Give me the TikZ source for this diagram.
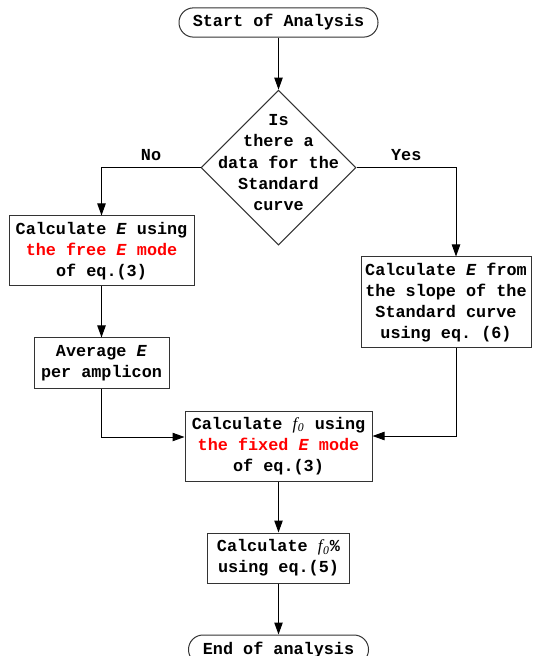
\documentclass[tikz,border=0pt]{standalone}
\usepackage{fontspec}
\setmonofont{Liberation Mono}
\newfontfamily\timesfont{Liberation Serif}
\usepackage{xcolor}
\usetikzlibrary{arrows.meta, positioning, shapes.geometric}

\newcommand{\EE}{\textit{E}}
\newcommand{\fzero}{{\timesfont\itshape\mdseries f\kern0.3pt\textsubscript{0}}}

\begin{document}
\begin{tikzpicture}[
  x=0.5pt, y=-0.5pt,
  font=\ttfamily\bfseries\fontsize{8.4}{10.6}\selectfont,
  box/.style={rectangle, draw=black!80, line width=0.5pt, align=center, inner sep=1pt},
  term/.style={rectangle, draw=black!80, line width=0.5pt, rounded corners=7.25pt,
               minimum height=14.5pt},
  decision/.style={diamond, draw=black!80, line width=0.5pt, minimum size=77.5pt, inner sep=0pt},
  arr/.style={-{Triangle[length=6pt, width=4.2pt]}, line width=0.5pt},
  node distance=25.5pt
]
\useasboundingbox (0,0) rectangle (533,656);

\node[term, minimum width=99.5pt] (start) at (278.5,22.5) {Start of Analysis};
\node[decision, below=26pt of start] (dec) {};
\node[align=center, yshift=2.5pt] (dectext) at (dec) {Is\\there a\\data for the\\Standard\\curve};

\node[box, minimum width=92.5pt, minimum height=35pt] (free) at (101.5,251)
      {Calculate \EE{} using\\\textcolor{red}{the free \EE{} mode}\\of eq.(3)};
\node[box, minimum width=67.5pt, minimum height=25pt] (avg) at (101.5,363)
      {Average \EE\\per amplicon};
\node[box, minimum width=85pt, minimum height=45.5pt] (slope) at (446,302.5)
      {Calculate \EE{} from\\the slope of the\\Standard curve\\using eq. (6)};
\node[box, minimum width=93.5pt, minimum height=35pt] (fixed) at (278.5,446)
      {Calculate \fzero{} using\\\textcolor{red}{the fixed \EE{} mode}\\of eq.(3)};
\node[box, minimum width=71pt, minimum height=25pt, below=of fixed] (pct)
      {Calculate \fzero\%\\using eq.(5)};
\node[term, minimum width=90pt, below=of pct] (end) {End of analysis};

\draw[arr] (start) -- (dec);
\draw[arr] (dec.west) -| node[above, pos=0.25] {No} (free.north);
\draw[arr] (dec.east) -| node[above, pos=0.25] {Yes} ([xshift=5pt]slope.north);
\draw[arr] (free) -- (avg);
\draw[arr] (avg.south) |- ([yshift=4.5pt]fixed.west);
\draw[arr] ([xshift=5pt]slope.south) |- ([yshift=5pt]fixed.east);
\draw[arr] (fixed) -- (pct);
\draw[arr] (pct) -- (end);
\end{tikzpicture}
\end{document}
